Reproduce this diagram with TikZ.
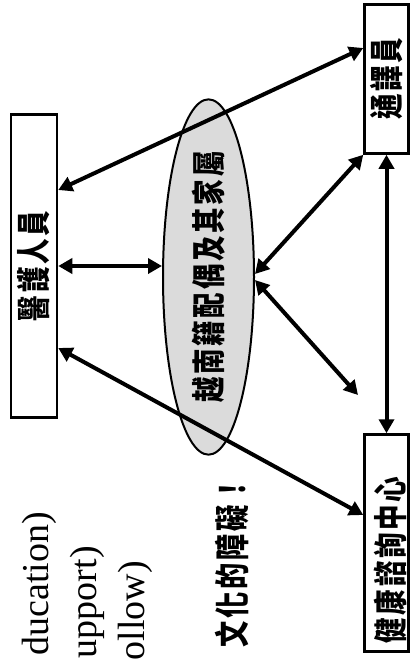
\documentclass[tikz,border=0pt]{standalone}
\usepackage{fontspec}
\newfontfamily\cjkfont[FakeStretch=0.75, LetterSpace=8]{Noto Sans CJK TC}
\newfontfamily\wordfont{Liberation Serif}
\usetikzlibrary{arrows.meta, shapes.geometric}

\begin{document}
\begin{tikzpicture}[
    x=1pt, y=-1pt,
    box/.style  = {draw=black, line width=2.5pt, fill=white, inner sep=0pt},
    cjk/.style  = {font=\cjkfont\bfseries\fontsize{34}{34}\selectfont},
    oval/.style = {ellipse, draw=black, line width=2pt, fill=gray!28, inner sep=0pt},
    word/.style = {rotate=90, anchor=base east, inner sep=0pt,
                   font=\wordfont\fontsize{38}{38}\selectfont},
    link/.style = {{Triangle[length=14pt, width=15pt]}-{Triangle[length=14pt, width=15pt]},
                   line width=4pt},
]

\useasboundingbox (0,0) rectangle (411,659);
\clip (0,0) rectangle (411,659);

%% ---- Boxes ----
\node[box, cjk, minimum width=46pt, minimum height=303pt] (med) at (34,266)
    {\rotatebox{90}{醫護人員}};
\node[box, cjk, minimum width=44pt, minimum height=149pt] (tr) at (386.5,79)
    {\rotatebox{90}{通譯員}};
\node[box, minimum width=44pt, minimum height=217pt] (hc) at (386.5,543) {};
\node[cjk, rotate=90] (hctext) at (390,560) {健康諮詢中心};

%% ---- Family ellipse ----
\node[oval, cjk, minimum width=91pt, minimum height=280pt] (fam) at (208.5,277)
    {\rotatebox{90}{越南籍配偶及其家屬}};

%% ---- Connectors ----
\coordinate (gap) at (358,395);
\draw[link] ([yshift=76pt]med.east) -- ([yshift=31pt]tr.west);
\draw[link] (med.east) -- (med.east -| fam.west);
\draw[link] ([yshift=-82pt]med.east) -- ([yshift=28pt]hc.west);
\draw[link] ([yshift=3pt]fam.east) -- (tr.south west);
\draw[link] ([yshift=-3pt]fam.east) -- (gap);
\draw[link] (tr.south) -- (hc.north);

%% ---- Side texts ----
\node[cjk, rotate=90, font=\cjkfont\bfseries\fontsize{35}{35}\selectfont] (bar) at (232,562)
    {文化的障礙！};
\node[word] (edu) at (48,512) {ducation)};
\node[word] (sup) at (96,546) {upport)};
\node[word] (fol) at (144,561) {ollow)};

\end{tikzpicture}
\end{document}
